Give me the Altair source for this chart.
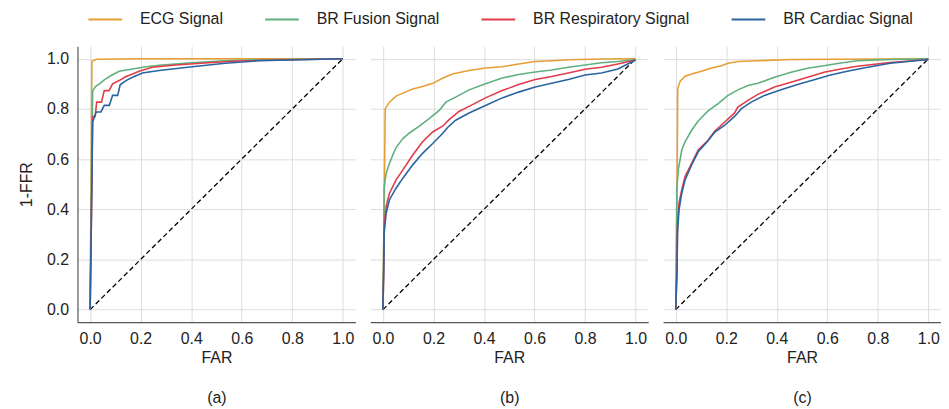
import altair as alt
import pandas as pd

SERIES = ["ECG Signal", "BR Fusion Signal", "BR Respiratory Signal", "BR Cardiac Signal"]
COLORS = ["#e69f34", "#5fb07e", "#e23b4a", "#2a64a0"]
PANELS = ["(a)", "(b)", "(c)"]
TICKS = [0.0, 0.2, 0.4, 0.6, 0.8, 1.0]

# ---- panel (a)
a_ecg_x = [0, 0.004, 0.007, 0.025, 0.2, 1.0]
a_ecg_y = [0, 0.5, 0.99, 0.998, 1.0, 1.0]
a_fus_x = [0, 0.006, 0.01, 0.021, 0.037, 0.056, 0.083, 0.115, 0.168, 0.22, 0.273, 0.40, 0.535, 0.666, 1.0]
a_fus_y = [0, 0.6, 0.871, 0.889, 0.90, 0.916, 0.933, 0.95, 0.959, 0.968, 0.974, 0.984, 0.992, 0.996, 1.0]
a_res_x = [0, 0.007, 0.01, 0.02, 0.026, 0.045, 0.056, 0.075, 0.089, 0.115, 0.142, 0.168, 0.194, 0.246, 0.338, 0.469, 0.60, 1.0]
a_res_y = [0, 0.5, 0.77, 0.77, 0.827, 0.827, 0.873, 0.873, 0.90, 0.913, 0.929, 0.939, 0.95, 0.966, 0.975, 0.984, 0.992, 1.0]
a_car_x = [0, 0.007, 0.01, 0.024, 0.043, 0.056, 0.076, 0.089, 0.109, 0.119, 0.142, 0.168, 0.207, 0.273, 0.404, 0.535, 0.666, 1.0]
a_car_y = [0, 0.5, 0.748, 0.788, 0.788, 0.814, 0.814, 0.854, 0.854, 0.896, 0.913, 0.926, 0.943, 0.953, 0.968, 0.982, 0.992, 1.0]

# ---- panel (b)
b_ecg_x = [0, 0.005, 0.009, 0.026, 0.052, 0.079, 0.118, 0.157, 0.197, 0.236, 0.275, 0.341, 0.406, 0.472, 0.537, 0.603, 0.668, 0.734, 0.865, 1.0]
b_ecg_y = [0, 0.4, 0.801, 0.827, 0.851, 0.863, 0.879, 0.889, 0.902, 0.922, 0.939, 0.953, 0.963, 0.968, 0.979, 0.989, 0.992, 0.996, 0.999, 1.0]
b_fus_x = [0, 0.003, 0.005, 0.013, 0.026, 0.039, 0.052, 0.079, 0.105, 0.144, 0.183, 0.223, 0.249, 0.288, 0.341, 0.406, 0.472, 0.537, 0.603, 0.668, 0.734, 0.80, 0.865, 0.93, 1.0]
b_fus_y = [0, 0.25, 0.49, 0.544, 0.583, 0.616, 0.646, 0.682, 0.704, 0.731, 0.761, 0.794, 0.827, 0.847, 0.876, 0.90, 0.923, 0.937, 0.947, 0.955, 0.966, 0.975, 0.984, 0.989, 0.997]
b_res_x = [0, 0.003, 0.005, 0.013, 0.026, 0.052, 0.079, 0.118, 0.157, 0.197, 0.236, 0.262, 0.301, 0.341, 0.406, 0.472, 0.537, 0.603, 0.668, 0.734, 0.80, 0.865, 0.93, 1.0]
b_res_y = [0, 0.15, 0.332, 0.412, 0.464, 0.517, 0.557, 0.616, 0.669, 0.708, 0.731, 0.757, 0.79, 0.81, 0.844, 0.873, 0.897, 0.917, 0.929, 0.943, 0.958, 0.966, 0.979, 0.995]
b_car_x = [0, 0.003, 0.005, 0.013, 0.026, 0.052, 0.079, 0.118, 0.157, 0.197, 0.236, 0.256, 0.288, 0.341, 0.406, 0.472, 0.537, 0.603, 0.668, 0.734, 0.80, 0.865, 0.93, 1.0]
b_car_y = [0, 0.15, 0.306, 0.385, 0.438, 0.484, 0.524, 0.577, 0.623, 0.662, 0.702, 0.726, 0.755, 0.784, 0.814, 0.844, 0.867, 0.887, 0.902, 0.917, 0.935, 0.943, 0.959, 0.995]

# ---- panel (c)
c_ecg_x = [0, 0.005, 0.008, 0.017, 0.037, 0.063, 0.102, 0.142, 0.181, 0.207, 0.246, 0.325, 0.456, 1.0]
c_ecg_y = [0, 0.45, 0.88, 0.91, 0.93, 0.939, 0.95, 0.963, 0.972, 0.982, 0.989, 0.992, 0.997, 1.0]
c_fus_x = [0, 0.003, 0.004, 0.010, 0.024, 0.037, 0.063, 0.089, 0.128, 0.168, 0.207, 0.246, 0.286, 0.325, 0.391, 0.456, 0.522, 0.587, 0.653, 0.718, 0.849, 1.0]
c_fus_y = [0, 0.25, 0.478, 0.557, 0.636, 0.669, 0.715, 0.752, 0.792, 0.821, 0.854, 0.876, 0.893, 0.902, 0.926, 0.946, 0.962, 0.972, 0.983, 0.992, 0.997, 1.0]
c_res_x = [0, 0.005, 0.007, 0.013, 0.024, 0.037, 0.063, 0.089, 0.128, 0.155, 0.194, 0.233, 0.246, 0.286, 0.325, 0.391, 0.456, 0.522, 0.587, 0.653, 0.718, 0.849, 1.0]
c_res_y = [0, 0.15, 0.332, 0.425, 0.478, 0.53, 0.583, 0.636, 0.675, 0.712, 0.748, 0.784, 0.807, 0.834, 0.858, 0.887, 0.906, 0.926, 0.946, 0.959, 0.97, 0.985, 0.997]
c_car_x = [0, 0.005, 0.007, 0.013, 0.024, 0.037, 0.063, 0.089, 0.128, 0.155, 0.194, 0.233, 0.26, 0.299, 0.351, 0.417, 0.482, 0.548, 0.613, 0.679, 0.744, 0.849, 1.0]
c_car_y = [0, 0.15, 0.306, 0.398, 0.464, 0.517, 0.577, 0.629, 0.673, 0.708, 0.735, 0.77, 0.801, 0.827, 0.854, 0.876, 0.897, 0.916, 0.935, 0.95, 0.963, 0.982, 0.997]

diag_x = [0.0, 1.0]
diag_y = [0.0, 1.0]

curves = {
    "(a)": [(a_ecg_x, a_ecg_y), (a_fus_x, a_fus_y), (a_res_x, a_res_y), (a_car_x, a_car_y)],
    "(b)": [(b_ecg_x, b_ecg_y), (b_fus_x, b_fus_y), (b_res_x, b_res_y), (b_car_x, b_car_y)],
    "(c)": [(c_ecg_x, c_ecg_y), (c_fus_x, c_fus_y), (c_res_x, c_res_y), (c_car_x, c_car_y)],
}

FONT = "Liberation Sans"
FS = 16
DOM = [-0.05, 1.05]


def panel(name, first):
    rows = []
    for s, (xs, ys) in zip(SERIES, curves[name]):
        for i, (x, y) in enumerate(zip(xs, ys)):
            rows.append({"series": s, "idx": i, "FAR": x, "TPR": y})
    df = pd.DataFrame(rows)
    ddf = pd.DataFrame({"FAR": diag_x, "TPR": diag_y})

    xaxis = alt.Axis(values=TICKS, format=".1f", title=["FAR", name],
                     titleLineHeight=40, titlePadding=3, labelPadding=9, grid=True)
    if first:
        yaxis = alt.Axis(values=TICKS, format=".1f", title="1-FFR", grid=True,
                         labelPadding=9, titlePadding=12)
    else:
        yaxis = alt.Axis(values=TICKS, labels=False, domain=False, title=None, grid=True)

    xs = alt.Scale(domain=DOM, nice=False, zero=False)
    ys = alt.Scale(domain=DOM, nice=False, zero=False)

    lines = alt.Chart(df).mark_line(strokeWidth=1.6).encode(
        x=alt.X("FAR:Q", scale=xs, axis=xaxis),
        y=alt.Y("TPR:Q", scale=ys, axis=yaxis),
        color=alt.Color("series:N", scale=alt.Scale(domain=SERIES, range=COLORS),
                        sort=SERIES,
                        legend=alt.Legend(title=None, orient="none", direction="horizontal",
                                          legendX=10, legendY=-45, padding=0,
                                          symbolType="stroke",
                                          symbolSize=1150, symbolStrokeWidth=2,
                                          labelFontSize=FS, labelFont=FONT,
                                          labelColor="#222222",
                                          labelOffset=17, columnPadding=38)),
        detail="series:N",
        order=alt.Order("idx:Q"),
    )
    diag = alt.Chart(ddf).mark_line(color="black", strokeWidth=1.3, strokeDash=[5, 3]).encode(
        x=alt.X("FAR:Q", scale=xs),
        y=alt.Y("TPR:Q", scale=ys),
    )
    return alt.layer(diag, lines).properties(width=280, height=278)


chart = alt.hconcat(panel("(a)", True), panel("(b)", False), panel("(c)", False),
                    spacing=15).configure_view(stroke=None).configure_axis(
    gridColor="#dddddd", gridWidth=1, domainColor="#555555", domainWidth=1.2,
    ticks=False, labelFontSize=FS, labelFont=FONT, labelColor="#222222",
    titleFontSize=FS, titleFont=FONT, titleFontWeight="normal", titleColor="#222222",
).properties(padding={"left": 10, "top": -8, "right": 0, "bottom": 0})

chart.save("out.html", embed_options={"renderer": "svg", "actions": False})
